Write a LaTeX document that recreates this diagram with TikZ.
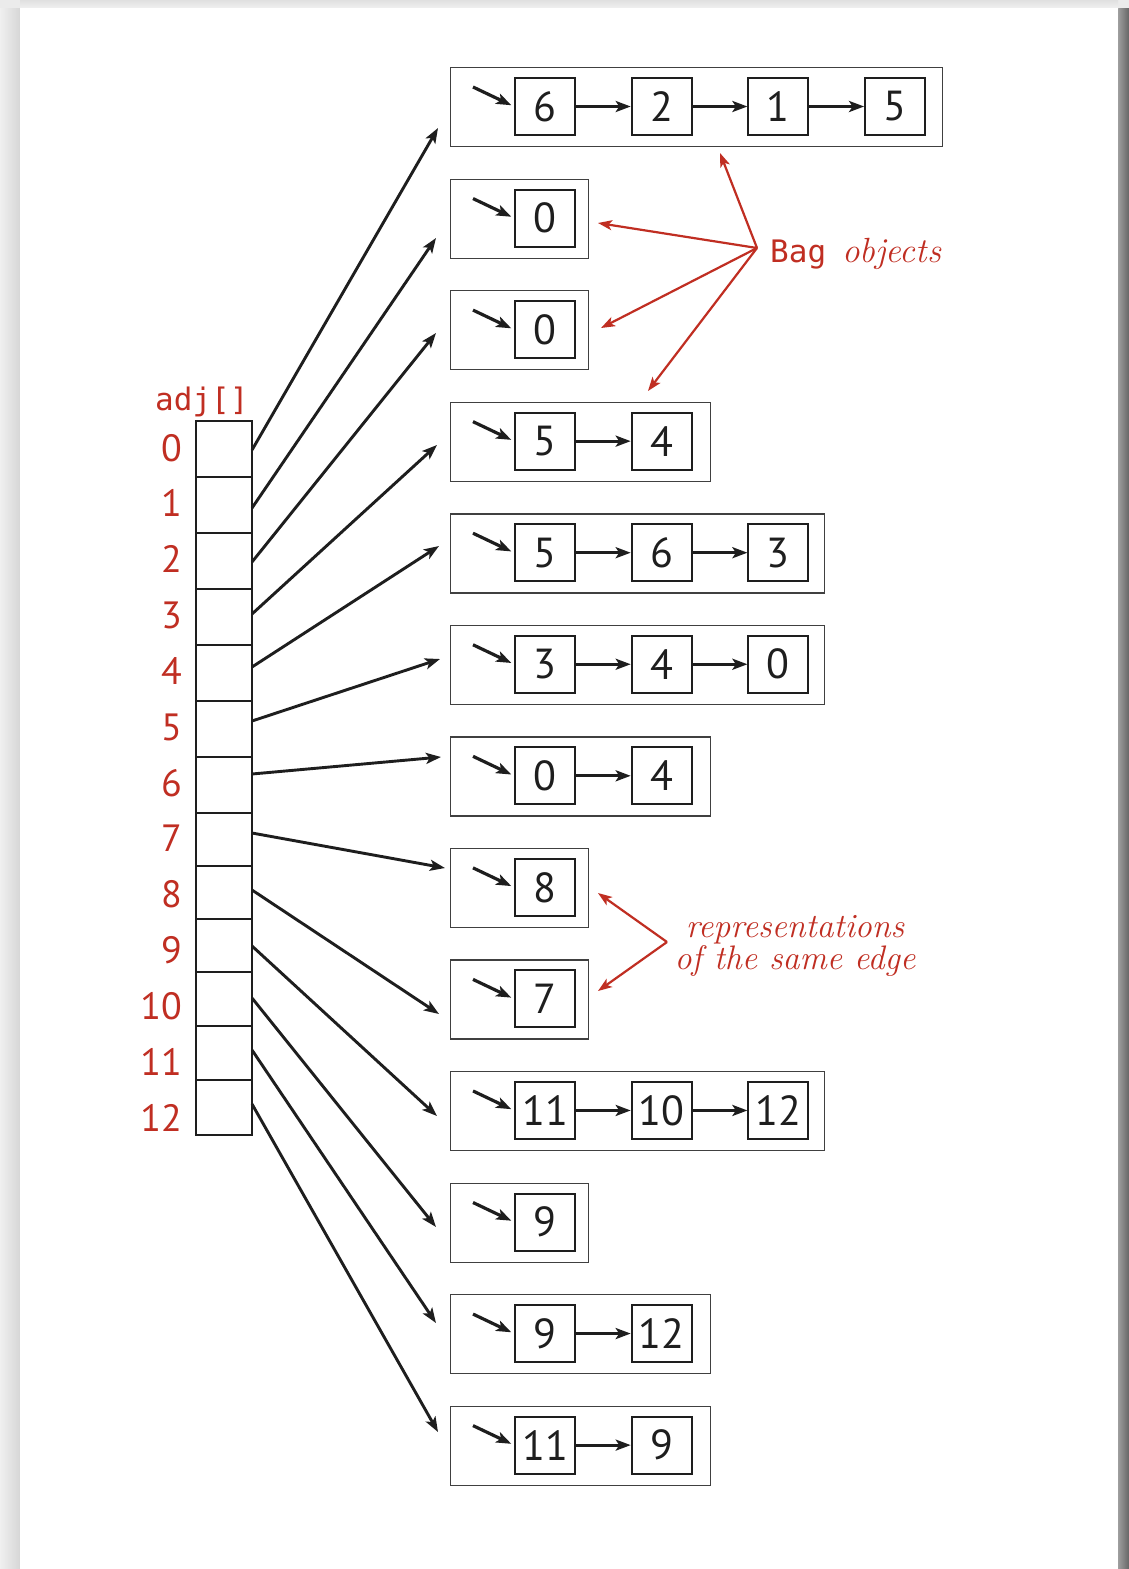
\documentclass[tikz,border=0pt]{standalone}
\usepackage{fontspec}
\newfontfamily\digfont{PT Sans}
\newfontfamily\codefont{DejaVu Sans Mono}
\usetikzlibrary{arrows.meta,calc}
\definecolor{bookred}{RGB}{192,46,34}
\definecolor{ink}{RGB}{30,30,30}
\newcommand\bagbox[6]{% #1 index, #2 right edge, #3 items, #4 pointer start y, #5 pointer end x, #6 pointer end y
  \pgfmathsetmacro\T{67+111.55*#1}
  \node[outerbox, minimum width={#2-450}] (bag#1) at (450,\T) {};
  \foreach \v [count=\i from 0] in {#3} {
    \node[cellbox] (b#1c\i) at ({545+116.7*\i},{\T+39.5}) {\v};
    \ifnum\i>0 \pgfmathtruncatemacro\j{\i-1}\draw[link] (b#1c\j) -- (b#1c\i);\fi
  }
  \coordinate (h#1) at (473,{\T+20});
  \draw[headlink] (h#1) -- (b#1c0.west);
  \coordinate (s#1) at (252,#4);
  \coordinate (p#1) at (#5,#6);
  \draw[link] (s#1) -- (p#1);
}
\begin{document}
\begin{tikzpicture}[x=1pt,y=-1pt,
  outerbox/.style={draw=ink!85, line width=1.3pt, rectangle, inner sep=0pt, anchor=north west, minimum height=79pt},
  cellbox/.style={draw=ink, line width=2pt, rectangle, minimum width=60pt, minimum height=57pt, inner sep=0pt, text=ink, font=\digfont\fontsize{42}{48}\selectfont},
  arrcell/.style={draw=ink, line width=2pt, rectangle, minimum width=56pt, inner sep=0pt},
  link/.style={draw=ink, line width=2.9pt, -{Stealth[length=15pt,width=11pt,inset=3.5pt]}},
  headlink/.style={draw=ink, line width=3.2pt, -{Stealth[length=15pt,width=11pt,inset=3.5pt]}, shorten >=3pt},
  redlink/.style={draw=bookred, line width=2.2pt, -{Stealth[length=14pt,width=10pt,inset=3.5pt]}},
  idx/.style={text=bookred, anchor=east, inner sep=0pt, font=\digfont\fontsize{38}{44}\selectfont},
  redtext/.style={text=bookred, inner sep=0pt}]
\useasboundingbox (0,0) rectangle (1129,1569);
% page background
\fill[black!8] (0,0) rectangle (1129,1569);
\shade[left color=black!6, right color=black!16] (0,8) rectangle (20,1569);
\shade[left color=black!38, right color=black!60] (1118,8) rectangle (1129,1569);
\shade[top color=black!12, bottom color=black!6] (20,0) rectangle (1118,8);
\fill[white] (20,8) rectangle (1118,1569);
% array
\node[redtext, anchor=base west, font=\codefont\fontsize{31}{36}\selectfont] (adjlbl) at (155,410) {adj[]};
\foreach \k/\ya/\yb/\yl in {0/421/477/448,1/477/533/503,2/533/589/559,3/589/645/615,4/645/701/671,5/701/757/727,6/757/813/783,7/813/866/838,8/866/919/894,9/919/972/950,10/972/1026/1006,11/1026/1080/1062,12/1080/1135/1118}{
  \node[arrcell, minimum height={\yb-\ya}] (a\k) at (224,{(\ya+\yb)/2}) {};
  \node[idx] (l\k) at (182,\yl) {\k};
}
% bags
\bagbox{0}{942}{6,2,1,5}{450}{438}{128}
\bagbox{1}{588}{0}{508}{436}{238}
\bagbox{2}{588}{0}{562}{436}{333}
\bagbox{3}{710}{5,4}{614}{437}{445}
\bagbox{4}{824}{5,6,3}{667}{439}{546}
\bagbox{5}{824}{3,4,0}{721}{440}{659}
\bagbox{6}{710}{0,4}{774}{441}{757}
\bagbox{7}{588}{8}{833}{445}{868}
\bagbox{8}{588}{7}{890}{439}{1014}
\bagbox{9}{824}{11,10,12}{946}{437}{1116}
\bagbox{10}{588}{9}{998}{436}{1227}
\bagbox{11}{710}{9,12}{1050}{436}{1323}
\bagbox{12}{710}{11,9}{1104}{438}{1432}
% Bag objects annotation
\coordinate (bagv) at (757,248);
\node[redtext, anchor=base west] (baglbl) at (770,262) {{\codefont\fontsize{31}{36}\selectfont Bag}\hspace{16pt}{\fontsize{35}{40}\selectfont\itshape objects}};
\coordinate (tb0) at (720,153);
\coordinate (tb1) at (598,223);
\coordinate (tb2) at (601,328);
\coordinate (tb3) at (648,391);
\draw[redlink] (bagv) -- (tb0);
\draw[redlink] (bagv) -- (tb1);
\draw[redlink] (bagv) -- (tb2);
\draw[redlink] (bagv) -- (tb3);
% same edge annotation
\coordinate (edgev) at (667,942);
\coordinate (te7) at (598,893);
\coordinate (te8) at (598,991);
\draw[redlink] (edgev) -- (te7);
\draw[redlink] (edgev) -- (te8);
\node[redtext, align=center, font=\fontsize{34}{32}\selectfont\itshape] (edgelbl) at (795,946) {representations\\of the same edge};
\end{tikzpicture}
\end{document}
